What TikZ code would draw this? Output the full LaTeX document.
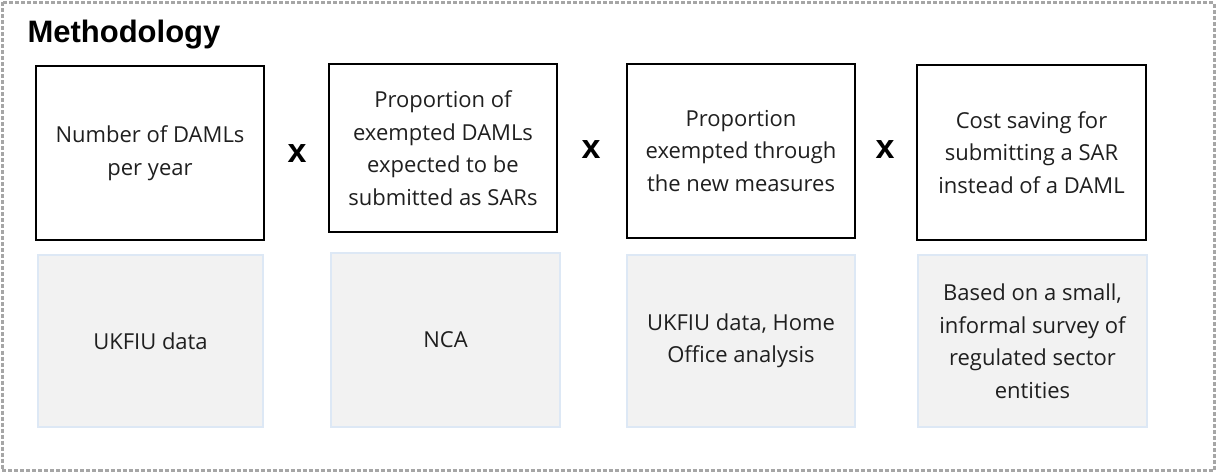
\documentclass[tikz,border=0pt]{standalone}
\usepackage{fontspec}
\setmainfont{Open Sans}
\newfontfamily\arialfont{Liberation Sans}
\definecolor{boxgray}{HTML}{F2F2F2}
\definecolor{boxedge}{HTML}{DDE8F5}
\definecolor{dashgray}{HTML}{A6A6A6}
\begin{document}
\begin{tikzpicture}[x=1pt,y=-1pt,
  factor/.style={draw=black,line width=2.6pt,align=center,inner sep=0pt,
    font=\fontsize{22}{32.5}\selectfont,text=black!88},
  source/.style={draw=boxedge,line width=2pt,fill=boxgray,align=center,inner sep=0pt,
    font=\fontsize{22}{32.5}\selectfont,text=black!88},
  times/.style={font=\arialfont\bfseries\fontsize{34}{34}\selectfont}]
\useasboundingbox (0,0) rectangle (1216,473);
\draw[dashgray,line width=3pt,dash pattern=on 4pt off 2pt] (2,2.5) rectangle (1214,470);
\node[anchor=base west,font=\arialfont\bfseries\fontsize{31}{31}\selectfont] (title) at (24,43) {Methodology};
% factor boxes
\node[factor,minimum width=228pt,minimum height=174pt] (f1) at (150,153) {Number of DAMLs\\per year};
\node[factor,minimum width=228pt,minimum height=168pt] (f2) at (443,148) {Proportion of\\exempted DAMLs\\expected to be\\submitted as SARs};
\node[factor,minimum width=228pt,minimum height=174pt] (f3) at (741,151) {Proportion\\exempted through\\the new measures};
\node[factor,minimum width=229pt,minimum height=175pt] (f4) at (1031.5,152.5) {Cost saving for\\submitting a SAR\\instead of a DAML};
% multiplication signs
\node[times] (x1) at (297,154) {x};
\node[times] (x2) at (591,150) {x};
\node[times] (x3) at (885,150) {x};
% source boxes
\node[source,minimum width=225pt,minimum height=172pt] (s1) at (150.5,341) {UKFIU data};
\node[source,minimum width=229pt,minimum height=174pt] (s2) at (445.5,340) {NCA};
\node[source,minimum width=228pt,minimum height=172pt] (s3) at (741,341) {UKFIU data, Home\\Office analysis};
\node[source,minimum width=229pt,minimum height=172pt] (s4) at (1032.5,341) {Based on a small,\\informal survey of\\regulated sector\\entities};
\end{tikzpicture}
\end{document}
